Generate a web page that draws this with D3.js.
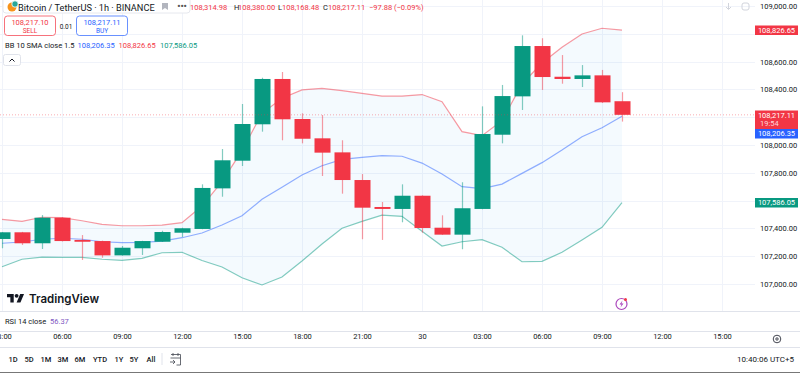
<!DOCTYPE html>
<html>
<head>
<meta charset="utf-8">
<script src="https://cdn.jsdelivr.net/npm/d3@7"></script>
<style>
html, body { margin: 0; padding: 0; background: #fff; overflow: hidden; }
text { font-family: Roboto, "Liberation Sans", sans-serif; }
</style>
</head>
<body>
<div id="chart"></div>
<script>
// candles, one per hour, starting 03:00 on the 29th
const hours = d3.range(0, 32)
const opens = [107324, 107372, 107293, 107477, 107317, 107309, 107206, 107257, 107304, 107369, 107396, 107688, 107887, 108149, 108475, 108187, 108048, 107947, 107748, 107554, 107540, 107635, 107405, 107355, 107540, 108074, 108350, 108712, 108491, 108475, 108501, 108314.98]
const highs = [107374, 107375, 107496, 107480, 107352, 107312, 107273, 107311, 107383, 107405, 107717, 107971, 108295, 108484, 108525, 108228, 108216, 108034, 107791, 107590, 107717, 107638, 107494, 107732, 108278, 108432, 108789, 108768, 108647, 108575, 108540, 108380]
const lows = [107257, 107281, 107252, 107306, 107173, 107189, 107204, 107209, 107302, 107338, 107394, 107628, 107849, 108096, 108034, 108012, 107777, 107650, 107322, 107317, 107444, 107369, 107353, 107250, 107538, 108012, 108252, 108396, 108441, 108417, 108302, 108168.48]
const closes = [107372, 107293, 107477, 107309, 107304, 107206, 107261, 107309, 107374, 107401, 107691, 107890, 108151, 108475, 108185, 108045, 107945, 107748, 107549, 107540, 107635, 107403, 107355, 107545, 108079, 108352, 108712, 108489, 108475, 108501, 108307, 108217.11]

// bollinger bands
const bbUpper = [107465, 107451, 107480, 107477, 107455, 107429, 107419, 107419, 107424, 107441, 107561, 107736, 107959, 108228, 108336, 108396, 108408, 108391, 108372, 108352, 108352, 108363, 108311, 108096, 108067, 108175, 108439, 108590, 108703, 108799, 108840, 108826.65]
const bbBasis = [107293, 107302, 107322, 107329, 107322, 107304, 107297, 107300, 107309, 107333, 107367, 107424, 107491, 107609, 107696, 107784, 107851, 107897, 107911, 107923, 107919, 107870, 107791, 107700, 107686, 107719, 107796, 107873, 107964, 108060, 108124, 108206.35]
const bbLower = [107124, 107178, 107194, 107192, 107192, 107178, 107170, 107185, 107225, 107228, 107169, 107122, 107045, 106993, 107050, 107165, 107288, 107401, 107451, 107496, 107487, 107380, 107273, 107304, 107319, 107264, 107160, 107163, 107228, 107317, 107408, 107586.05]

// axes
const priceTicks = [107000, 107200, 107400, 107600, 107800, 108000, 108200, 108400, 108600, 108800, 109000]
// 107,600 108,200 and 108,800 sit behind the value tags
const priceLabelTicks = [107000, 107200, 107400, 107800, 108000, 108400, 108600, 109000]
const timeTicks = [0, 3, 6, 9, 12, 15, 18, 21, 24, 27, 30, 33, 36]
const timeLabels = ["03:00", "06:00", "09:00", "12:00", "15:00", "18:00", "21:00", "30", "03:00", "06:00", "09:00", "12:00", "15:00"]
const rangeLabels = ["1D", "5D", "1M", "3M", "6M", "YTD", "1Y", "5Y", "All"]
const rangeSpots = [13, 29, 46, 63, 80, 100, 119, 134, 151]

const upColor = "#089981"
const downColor = "#F23645"
const blue = "#2962FF"
const gridColor = "#f0f3fa"
const textColor = "#131722"

const width = 800, height = 373
const paneRight = 755, paneBottom = 311

const x = d3.scaleLinear().domain([0, 36]).range([2, 722])
const y = d3.scaleLinear().domain([107000, 109000]).range([284, 6])
const money = d3.format(",.2f")

const svg = d3.select("#chart").append("svg")
    .attr("width", width)
    .attr("height", height)
    .style("display", "block")

// Grid
svg.append("g").selectAll("line").data(timeTicks).enter().append("line")
    .attr("x1", d => x(d) + 0.5).attr("x2", d => x(d) + 0.5)
    .attr("y1", 0).attr("y2", paneBottom)
    .attr("stroke", gridColor)
svg.append("g").selectAll("line").data(priceTicks).enter().append("line")
    .attr("x1", 0).attr("x2", paneRight)
    .attr("y1", d => Math.round(y(d)) + 0.5).attr("y2", d => Math.round(y(d)) + 0.5)
    .attr("stroke", gridColor)

// Bollinger bands
const band = d3.area().x(d => x(d)).y0(d => y(bbLower[d])).y1(d => y(bbUpper[d]))
svg.append("path").attr("d", band(hours)).attr("fill", "#2196F3").attr("fill-opacity", 0.05)
function bandLine(values, color) {
    const line = d3.line().x(d => x(d)).y(d => y(values[d]))
    svg.append("path")
        .attr("d", line(hours))
        .attr("fill", "none")
        .attr("stroke", color)
        .attr("stroke-opacity", 0.5)
        .attr("stroke-width", 1.2)
}
bandLine(bbBasis, blue)
bandLine(bbUpper, downColor)
bandLine(bbLower, upColor)

// Candles
const candleColor = d => closes[d] >= opens[d] ? upColor : downColor
const candles = svg.append("g").selectAll("g").data(hours).enter().append("g")
candles.append("line")
    .attr("x1", d => x(d) + 0.5).attr("x2", d => x(d) + 0.5)
    .attr("y1", d => y(highs[d])).attr("y2", d => y(lows[d]))
    .attr("stroke", candleColor)
    .attr("stroke-opacity", 0.5)
    .attr("stroke-width", 1.2)
candles.append("rect")
    .attr("x", d => x(d) - 7.5)
    .attr("width", 16)
    .attr("y", d => y(Math.max(opens[d], closes[d])))
    .attr("height", d => Math.max(1.5, Math.abs(y(opens[d]) - y(closes[d]))))
    .attr("fill", candleColor)

// Current price line
svg.append("line")
    .attr("x1", 0).attr("x2", paneRight)
    .attr("y1", y(108217.11)).attr("y2", y(108217.11))
    .attr("stroke", downColor)
    .attr("stroke-opacity", 0.4)
    .attr("stroke-dasharray", "1 2")

// Price scale
const priceAxis = d3.axisRight(y).tickValues(priceLabelTicks).tickFormat(money).tickSize(0).tickPadding(0)
const priceG = svg.append("g").attr("transform", "translate(760,0)").call(priceAxis)
priceG.select(".domain").remove()
priceG.selectAll("text").attr("font-size", 7.5).attr("fill", textColor)
    .style("font-family", "Roboto")

function tag(top, h, color, label, sub) {
    svg.append("rect").attr("x", 755).attr("y", top).attr("width", 43).attr("height", h).attr("fill", color)
    svg.append("text").attr("x", 776.5).attr("y", top + 7).attr("text-anchor", "middle")
        .attr("font-size", 7.5).attr("fill", "#fff").text(label)
    if (sub) {
        svg.append("text").attr("x", 760).attr("y", top + 15.5)
            .attr("font-size", 7.5).attr("fill", "#fff").attr("fill-opacity", 0.8).text(sub)
    }
}
tag(25.5, 9.5, downColor, money(bbUpper[31]))
tag(110.5, 18.5, downColor, money(closes[31]), "19:54")
tag(129, 9.5, blue, money(bbBasis[31]))
tag(198, 9.5, upColor, money(bbLower[31]))

// Pane separators
svg.append("g").selectAll("line").data([311.5, 331.5, 347.5]).enter().append("line")
    .attr("x1", 0).attr("x2", width)
    .attr("y1", d => d).attr("y2", d => d)
    .attr("stroke", "#e0e3eb")
svg.append("line").attr("x1", 0).attr("x2", width).attr("y1", 372.5).attr("y2", 372.5).attr("stroke", "#777")

// Time axis
const timeAxis = d3.axisBottom(x).tickValues(timeTicks).tickFormat((d, i) => timeLabels[i]).tickSize(0).tickPadding(0)
const timeG = svg.append("g").attr("transform", "translate(0,334)").call(timeAxis)
timeG.select(".domain").remove()
timeG.selectAll("text").attr("font-size", 7.5).attr("fill", textColor).style("font-family", "Roboto")

// Header pill
svg.append("rect").attr("x", 3).attr("y", -4).attr("width", 187).attr("height", 17)
    .attr("rx", 3).attr("fill", "#fff").attr("stroke", "#e6e8ee")
svg.append("circle").attr("cx", 12).attr("cy", 7).attr("r", 4.5).attr("fill", "#f7931a")
svg.append("circle").attr("cx", 15).attr("cy", 4).attr("r", 3.2).attr("fill", "#26a69a").attr("stroke", "#fff").attr("stroke-width", 0.8)
svg.append("text").attr("x", 18).attr("y", 10.5).attr("font-size", 9.2).attr("fill", textColor)
    .text("Bitcoin / TetherUS · 1h · BINANCE")
svg.append("path").attr("d", "M162 3h6v7l-3-2l-3 2z").attr("fill", "#b2b5be")
svg.append("text").attr("x", 182).attr("y", 9).attr("text-anchor", "middle").attr("font-size", 9).attr("font-weight", 700).attr("fill", "#555").text("•••")

// OHLC readout
const readout = [[190, "108,314.98", downColor], [234, "H", textColor], [238, "108,380.00", downColor], [278, "L", textColor], [282, "108,168.48", downColor], [323, "C", textColor], [328, "108,217.11", downColor], [369, "−97.88 (−0.09%)", downColor]]
svg.append("g").selectAll("text").data(readout).enter().append("text")
    .attr("x", d => d[0]).attr("y", 9.5)
    .attr("font-size", 7.5).attr("fill", d => d[2]).text(d => d[1])

// Sell / buy
function tradeBox(left, color, price, label) {
    svg.append("rect").attr("x", left).attr("y", 16).attr("width", 51).attr("height", 19.5)
        .attr("rx", 3).attr("fill", "#fff").attr("stroke", color).attr("stroke-opacity", 0.7)
    svg.append("text").attr("x", left + 25.5).attr("y", 25).attr("text-anchor", "middle")
        .attr("font-size", 7.5).attr("fill", color).text(price)
    svg.append("text").attr("x", left + 25.5).attr("y", 33).attr("text-anchor", "middle")
        .attr("font-size", 6.5).attr("fill", color).text(label)
}
tradeBox(4.5, downColor, "108,217.10", "SELL")
tradeBox(76.5, blue, "108,217.11", "BUY")
svg.append("text").attr("x", 66).attr("y", 28.5).attr("text-anchor", "middle").attr("font-size", 6.5).attr("fill", textColor).text("0.01")

// Indicator legends
const bbLegend = [[5, "BB 10 SMA close 1.5", textColor], [77.5, money(bbBasis[31]), blue], [118.5, money(bbUpper[31]), downColor], [160, money(bbLower[31]), upColor]]
svg.append("g").selectAll("text").data(bbLegend).enter().append("text")
    .attr("x", d => d[0]).attr("y", 48)
    .attr("font-size", 7.5).attr("fill", d => d[2]).text(d => d[1])
svg.append("rect").attr("x", 3.5).attr("y", 54.5).attr("width", 17).attr("height", 11).attr("rx", 2)
    .attr("fill", "#fff").attr("stroke", "#e0e3eb")
svg.append("path").attr("d", "M9.5 61.5l2.5-2.5l2.5 2.5").attr("fill", "none").attr("stroke", textColor)
svg.append("text").attr("x", 5).attr("y", 324).attr("font-size", 7.5).attr("fill", textColor).text("RSI 14 close")
svg.append("text").attr("x", 50).attr("y", 324).attr("font-size", 7.5).attr("fill", "#7E57C2").text("56.37")

// TradingView logo
const logo = svg.append("g").attr("transform", "translate(7,292) scale(0.48)").attr("fill", "#131722")
logo.append("path").attr("d", "M14 22H7V11H0V4h14v18zM28 22h-8l7.5-18h8L28 22z")
logo.append("circle").attr("cx", 20).attr("cy", 8).attr("r", 4)
svg.append("text").attr("x", 29).attr("y", 302.5).attr("font-size", 11.5).attr("font-weight", 600)
    .style("font-family", "Inter").attr("fill", "#131722").text("TradingView")

// Lightning badge
svg.append("circle").attr("cx", 621.5).attr("cy", 304).attr("r", 5.5).attr("fill", "#fff").attr("stroke", "#ab47bc").attr("stroke-width", 1.2)
svg.append("path").attr("d", "M622.5 300.5l-3 4h2l-1 3l3-4h-2z").attr("fill", "#ab47bc")
svg.append("circle").attr("cx", 625.5).attr("cy", 299.5).attr("r", 1.5).attr("fill", downColor)

// Top right faded icons
svg.append("path").attr("d", "M728.5 3v6M726 7l2.5 2.5L731 7").attr("fill", "none").attr("stroke", "#d1d4dc")
svg.append("rect").attr("x", 742).attr("y", 3).attr("width", 7).attr("height", 7).attr("rx", 2).attr("fill", "none").attr("stroke", "#d1d4dc")

// Gear
svg.append("circle").attr("cx", 777).attr("cy", 339).attr("r", 3.8).attr("fill", "none").attr("stroke", "#434651")
svg.append("circle").attr("cx", 777).attr("cy", 339).attr("r", 1.2).attr("fill", "none").attr("stroke", "#434651")

// Bottom bar
svg.append("g").selectAll("text").data(rangeLabels).enter().append("text")
    .attr("x", (d, i) => rangeSpots[i]).attr("y", 362)
    .attr("text-anchor", "middle").attr("font-size", 7.5).attr("font-weight", 500)
    .attr("fill", textColor).text(d => d)
svg.append("line").attr("x1", 162).attr("x2", 162).attr("y1", 353).attr("y2", 365).attr("stroke", "#e0e3eb")
svg.append("path")
    .attr("d", "M171 354.5h9.5v10.5h-4M170.5 358h10M173 353v3M178 353v3M170 362h5M173 360l2 2l-2 2")
    .attr("fill", "none").attr("stroke", "#434651").attr("stroke-width", 0.8)
svg.append("text").attr("x", 794).attr("y", 362).attr("text-anchor", "end").attr("font-size", 8).attr("fill", textColor).text("10:40:06 UTC+5")
</script>
</body>
</html>
